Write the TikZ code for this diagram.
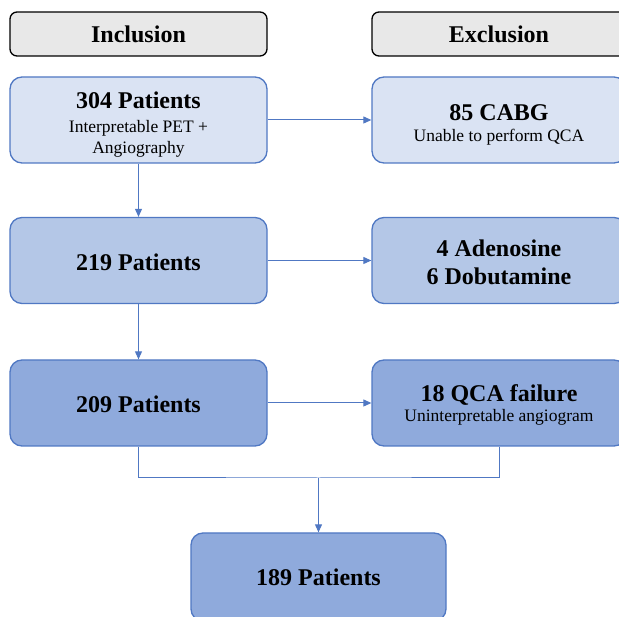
\documentclass[tikz,border=0pt]{standalone}
\usepackage{fontspec}
\setmainfont{Liberation Serif}
\usetikzlibrary{arrows.meta}
\definecolor{edgeblue}{RGB}{80,120,195}
\definecolor{headgray}{RGB}{232,232,232}
\definecolor{paleblue}{RGB}{218,227,243}
\definecolor{midblue}{RGB}{180,199,231}
\definecolor{deepblue}{RGB}{143,170,220}
\newcommand{\headtxt}{\bfseries\fontsize{24}{28}\selectfont}
\newcommand{\subtxt}{\fontsize{17.5}{21}\selectfont}
\newcommand{\lift}[1]{\rule{0pt}{#1}}
\tikzset{
    header/.style = {draw = black, fill = headgray, line width = 1.3pt, rounded corners = 7pt,
        minimum height = 44pt, font = \headtxt},
    stage/.style = {draw = edgeblue, line width = 1.3pt, rounded corners = 12pt,
        minimum height = 86pt, align = center, font = \subtxt},
    flow/.style = {draw = edgeblue, line width = 1pt},
    flowarrow/.style = {flow, -{Triangle[length=8pt, width=7pt]}}
}
\begin{document}
\begin{tikzpicture}[x = 1pt, y = -1pt]
    \useasboundingbox (0, 0) rectangle (619, 617);
    % column headers
    \node[header, minimum width = 257pt] (incl) at (138.5, 34) {Inclusion};
    \node[header, minimum width = 254pt] (excl) at (499, 34) {Exclusion};
    % inclusion column
    \node[stage, fill = paleblue, minimum width = 257pt] (p304) at (138.5, 120)
        {{\headtxt\lift{26pt}304 Patients}\\[3pt] Interpretable PET +\\ Angiography};
    \node[stage, fill = midblue, minimum width = 257pt] (p219) at (138.5, 260.5) {\headtxt\lift{20pt}219 Patients};
    \node[stage, fill = deepblue, minimum width = 257pt] (p209) at (138.5, 403) {\headtxt\lift{20pt}209 Patients};
    \node[stage, fill = deepblue, minimum width = 255pt, minimum height = 88pt] (p189) at (318.5, 577) {\headtxt 189 Patients};
    % exclusion column
    \node[stage, fill = paleblue, minimum width = 254pt] (cabg) at (499, 120)
        {{\headtxt\lift{25pt}85 CABG}\\ Unable to perform QCA};
    \node[stage, fill = midblue, minimum width = 254pt, font = \headtxt] (stress) at (499, 260.5)
        {\lift{20pt}4 Adenosine\\ 6 Dobutamine};
    \node[stage, fill = deepblue, minimum width = 254pt] (qca) at (499, 403)
        {{\headtxt\lift{20pt}18 QCA failure}\\[-1pt] Uninterpretable angiogram};
    % connectors
    \draw[flowarrow] (p304) -- (p219);
    \draw[flowarrow] (p219) -- (p209);
    \draw[flowarrow] (p304) -- (cabg);
    \draw[flowarrow] (p219) -- (stress);
    \draw[flowarrow] (p209) -- (qca);
    \coordinate (merge) at (318.5, 478);
    \draw[flow] (p209.south) |- (merge) -| (qca.south);
    \draw[flowarrow] (merge) -- (p189);
\end{tikzpicture}
\end{document}
